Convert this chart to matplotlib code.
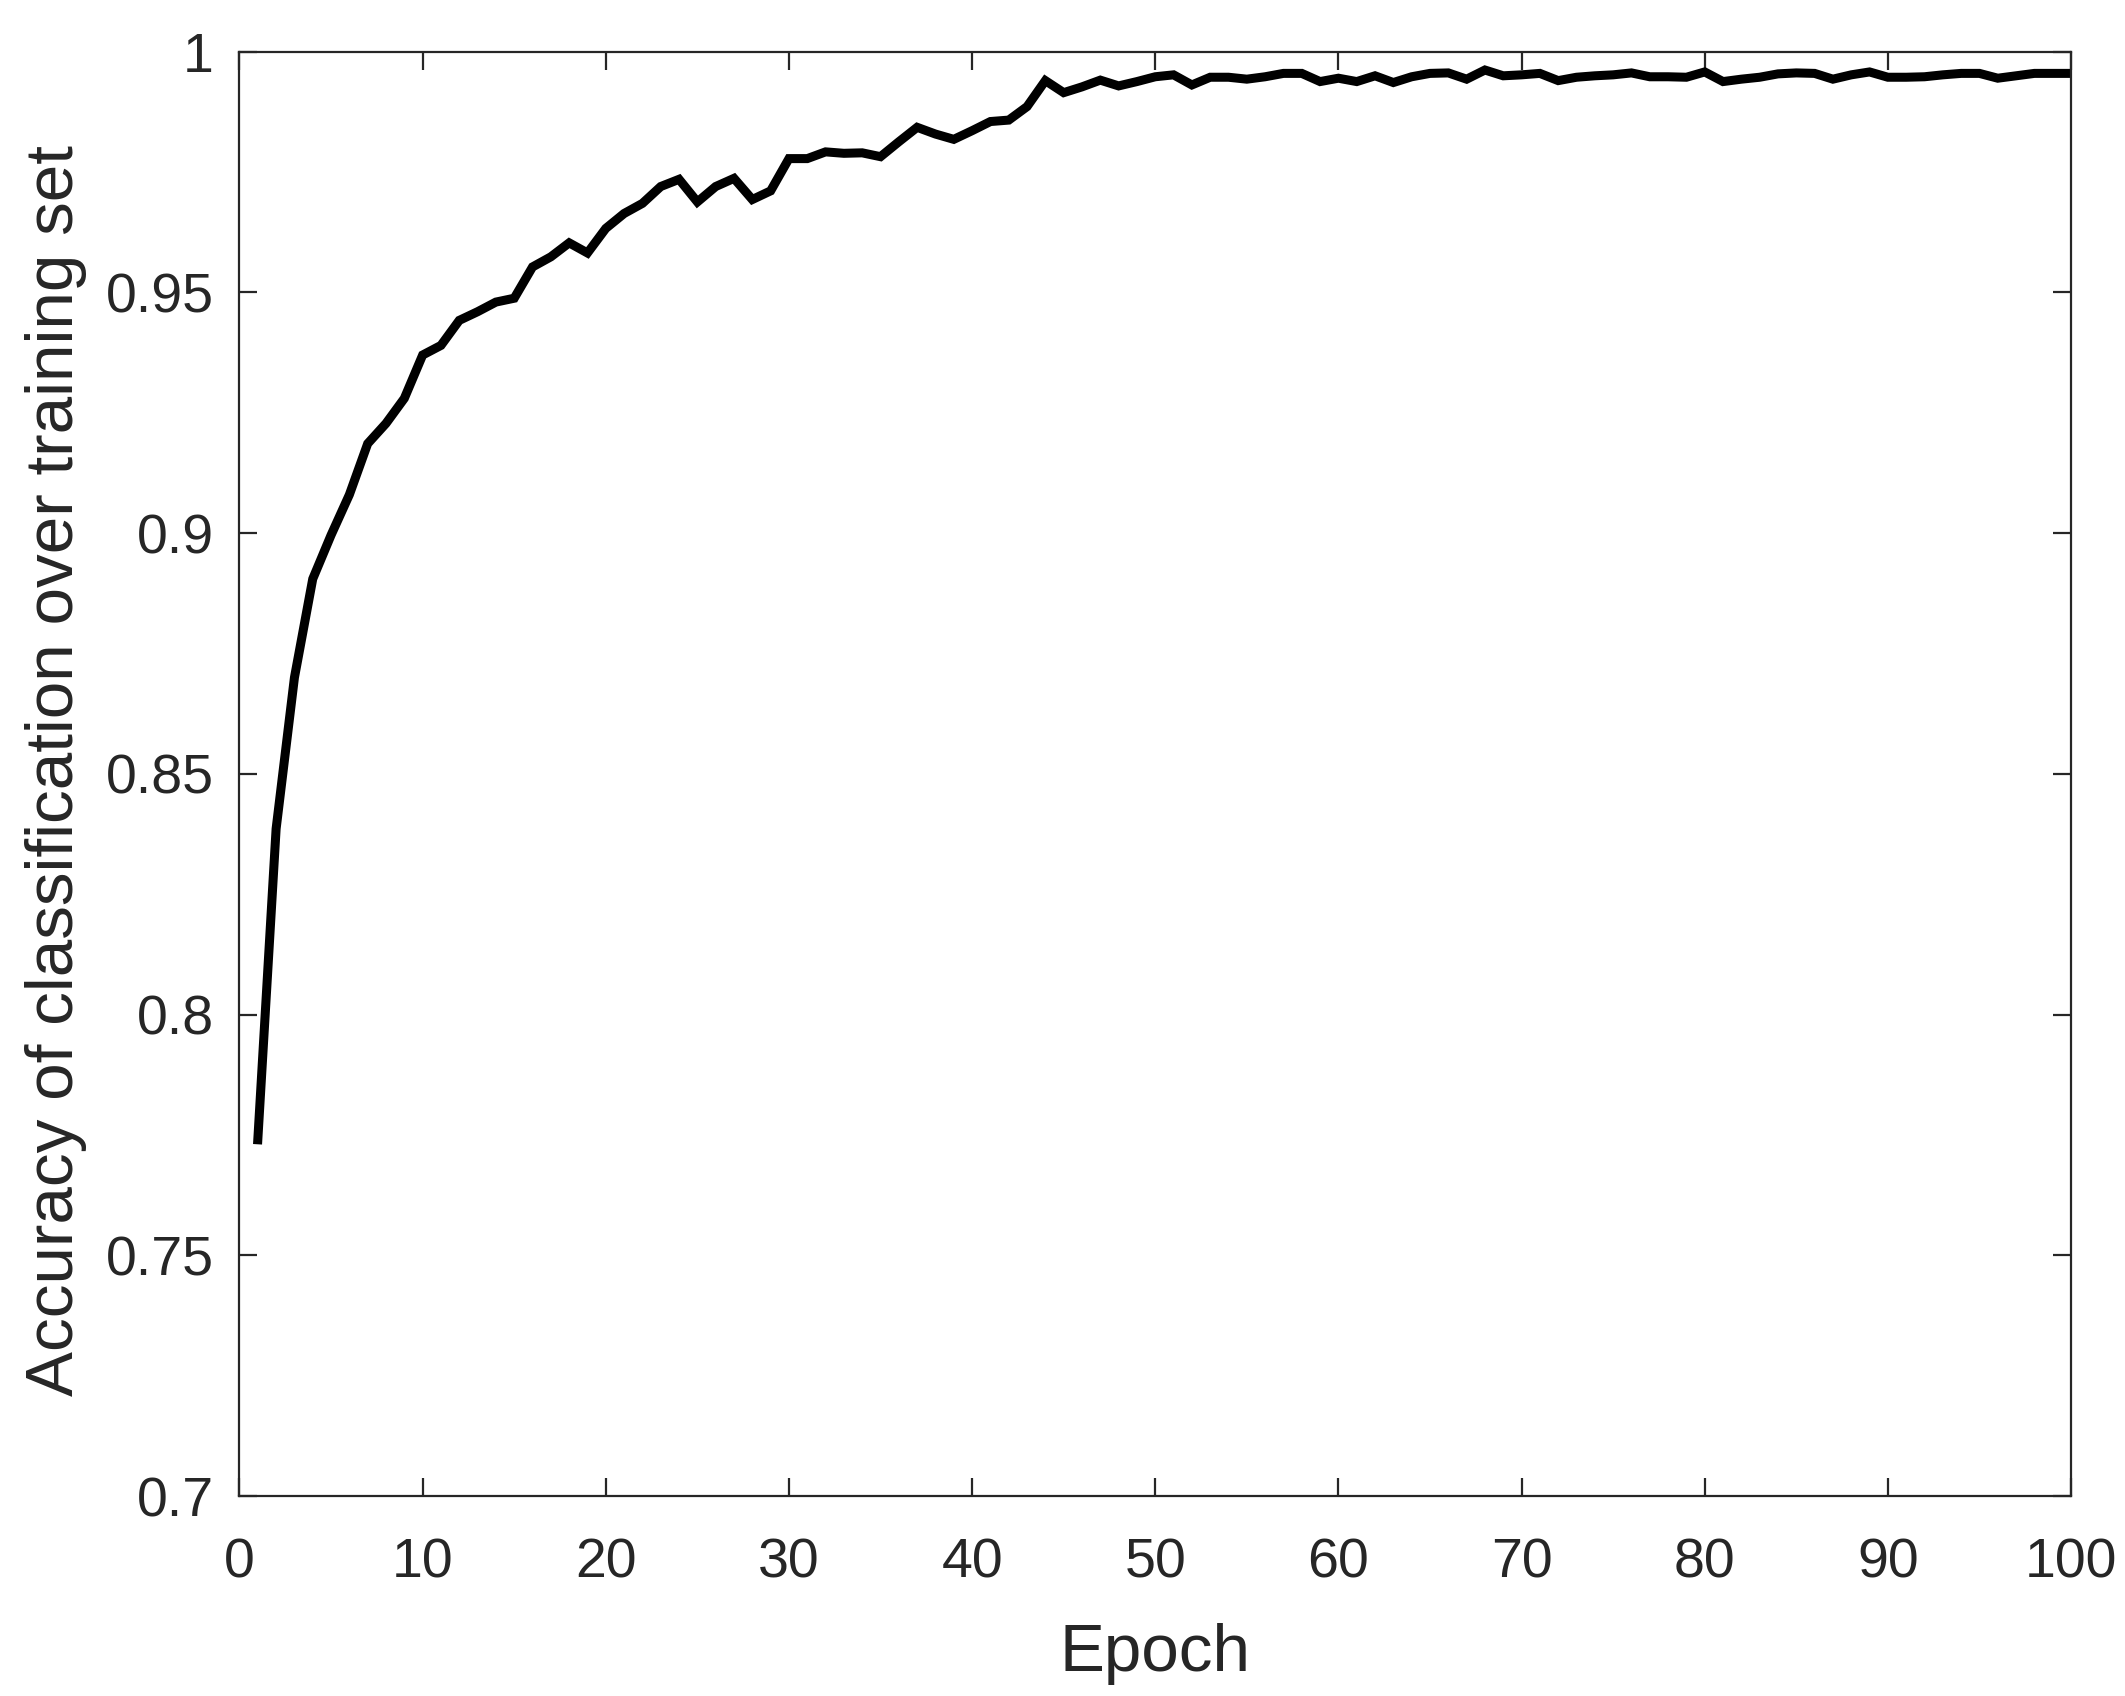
import numpy as np
import matplotlib
matplotlib.use('Agg')
import matplotlib.pyplot as plt
from matplotlib.ticker import FixedLocator, FixedFormatter

# Training accuracy per epoch
epochs = list(range(1, 101))
accuracy = [
    0.774, 0.8386, 0.870, 0.8905, 0.8996, 0.908, 0.9186, 0.9228, 0.928, 0.937,
    0.939, 0.9442, 0.946, 0.948, 0.9488, 0.9553, 0.9574, 0.9603, 0.9582, 0.9633,
    0.9664, 0.9685, 0.9720, 0.9735, 0.9688, 0.9720, 0.9737, 0.9693, 0.9711, 0.9778,
    0.9778, 0.9792, 0.9789, 0.9790, 0.9782, 0.9813, 0.9843, 0.9829, 0.9818, 0.9836,
    0.9855, 0.9858, 0.9886, 0.9940, 0.9915, 0.9927, 0.9941, 0.9929, 0.9938, 0.9948,
    0.9952, 0.9931, 0.9947, 0.9947, 0.9943, 0.9948, 0.9955, 0.9955, 0.9938, 0.9945,
    0.9938, 0.9950, 0.9936, 0.9948, 0.9955, 0.9956, 0.9943, 0.9962, 0.9950, 0.9952,
    0.9955, 0.9940, 0.9947, 0.9950, 0.9952, 0.9956, 0.9948, 0.9948, 0.9947, 0.9958,
    0.9938, 0.9943, 0.9947, 0.9954, 0.9956, 0.9955, 0.9943, 0.9952, 0.9958, 0.9947,
    0.9947, 0.9948, 0.9952, 0.9955, 0.9955, 0.9945, 0.9950, 0.9955, 0.9955, 0.9955,
]

x_ticks = [0, 10, 20, 30, 40, 50, 60, 70, 80, 90, 100]
y_ticks = [0.7, 0.75, 0.8, 0.85, 0.9, 0.95, 1.0]
y_tick_labels = ['0.7', '0.75', '0.8', '0.85', '0.9', '0.95', '1']

plt.rcParams['font.family'] = ['Liberation Sans', 'DejaVu Sans']

fig = plt.figure(figsize=(21.25, 16.96), dpi=100)
ax = fig.add_axes([0.1127, 0.1179, 0.8619, 0.8516])

ax.plot(epochs, accuracy, color='black', linewidth=6.5, solid_joinstyle='miter')

ax.set_xlim(0, 100)
ax.set_ylim(0.7, 1.0)
ax.xaxis.set_major_locator(FixedLocator(x_ticks))
ax.yaxis.set_major_locator(FixedLocator(y_ticks))
ax.yaxis.set_major_formatter(FixedFormatter(y_tick_labels))

axis_color = '#262626'
for side in ['left', 'right', 'top', 'bottom']:
    ax.spines[side].set_linewidth(1.6)
    ax.spines[side].set_color(axis_color)

ax.tick_params(direction='in', length=13, width=1.6, color=axis_color,
               labelsize=40, labelcolor=axis_color, top=True, right=True)
ax.tick_params(axis='x', pad=30)
ax.tick_params(axis='y', pad=18.5)

ax.set_xlabel('Epoch', fontsize=48.5, color=axis_color)
ax.set_ylabel('Accuracy of classification over training set', fontsize=48.5,
              color=axis_color)
ax.xaxis.set_label_coords(0.5, -0.088)
ax.yaxis.set_label_coords(-0.0833, 0.502)

fig.savefig('out.png', dpi=100, facecolor='white')
